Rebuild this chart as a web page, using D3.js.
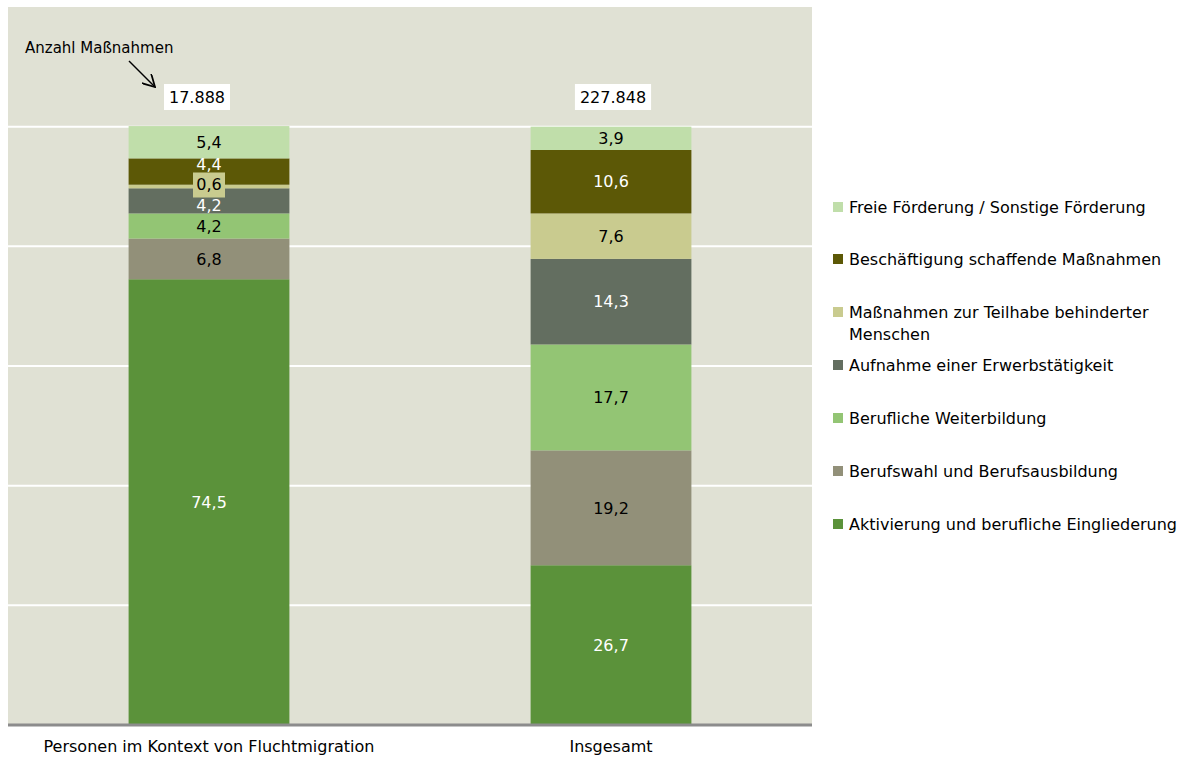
<!DOCTYPE html>
<html>
<head>
<meta charset="utf-8">
<script src="https://cdn.jsdelivr.net/npm/d3@7"></script>
<style>
  body { margin: 0; background: #fff; }
  svg text { font-family: "DejaVu Sans", Verdana, sans-serif; }
</style>
</head>
<body>
<svg id="chart" width="1180" height="760"></svg>
<script>
// categories (bottom -> top of the stack)
var series = [
    "Aktivierung und berufliche Eingliederung",
    "Berufswahl und Berufsausbildung",
    "Berufliche Weiterbildung",
    "Aufnahme einer Erwerbstätigkeit",
    "Maßnahmen zur Teilhabe behinderter Menschen",
    "Beschäftigung schaffende Maßnahmen",
    "Freie Förderung / Sonstige Förderung"
];
var groups = ["Personen im Kontext von Fluchtmigration", "Insgesamt"];
var fluchtValues = [74.5, 6.8, 4.2, 4.2, 0.6, 4.4, 5.4];
var insgesamtValues = [26.7, 19.2, 17.7, 14.3, 7.6, 10.6, 3.9];
var totals = ["17.888", "227.848"];
var yTicks = [0, 20, 40, 60, 80, 100, 120];

var colors = ["#5b923a", "#929079", "#93c574", "#636e60", "#c9cb8f", "#5c5806", "#c0deaa"];
var whiteText = [true, false, false, true, false, true, false];

var svg = d3.select("#chart");
var plot = {left: 8, right: 812, top: 7, bottom: 725};
var FS = 16;

var x = d3.scaleBand()
    .domain(groups)
    .range([plot.left, plot.right])
    .paddingInner(0.6)
    .paddingOuter(0.3);

var y = d3.scaleLinear()
    .domain([0, 120])
    .range([plot.bottom, plot.top]);

// plot background
svg.append("rect")
    .attr("x", plot.left).attr("y", plot.top)
    .attr("width", plot.right - plot.left)
    .attr("height", plot.bottom - plot.top)
    .attr("fill", "#e0e1d4");

// gridlines
svg.append("g").selectAll("line")
    .data(yTicks.filter(function (t) { return t > 0 && t < 120; }))
    .enter().append("line")
    .attr("x1", plot.left).attr("x2", plot.right)
    .attr("y1", function (d) { return y(d); })
    .attr("y2", function (d) { return y(d); })
    .attr("stroke", "#ffffff")
    .attr("stroke-width", 2);

var rows = groups.map(function (g, i) {
    var vals = i === 0 ? fluchtValues : insgesamtValues;
    var row = {group: g};
    series.forEach(function (s, j) { row[s] = vals[j]; });
    return row;
});
var stacked = d3.stack().keys(series)(rows);

// label nudges for the crowded first bar (px)
var nudge = {"0-5": -7, "0-4": -2, "0-3": 4};

var layers = svg.append("g").selectAll("g")
    .data(stacked)
    .enter().append("g")
    .attr("fill", function (d, i) { return colors[i]; });

layers.selectAll("rect")
    .data(function (d) { return d; })
    .enter().append("rect")
    .attr("x", function (d) { return x(d.data.group); })
    .attr("width", x.bandwidth())
    .attr("y", function (d) { return y(d[1]); })
    .attr("height", function (d) { return y(d[0]) - y(d[1]); });

var fmt = function (v) { return v.toFixed(1).replace(".", ","); };

stacked.forEach(function (layer, si) {
    layer.forEach(function (d, gi) {
        var cx = x(d.data.group) + x.bandwidth() / 2;
        var cy = (y(d[0]) + y(d[1])) / 2 + (nudge[gi + "-" + si] || 0);
        var label = fmt(d[1] - d[0]);
        if (gi === 0 && si === 4) {
            svg.append("rect")
                .attr("x", cx - 16).attr("y", cy - 12)
                .attr("width", 32).attr("height", 25)
                .attr("fill", colors[si]);
        }
        svg.append("text")
            .attr("x", cx).attr("y", cy)
            .attr("dy", "0.36em")
            .attr("text-anchor", "middle")
            .attr("font-size", FS)
            .attr("fill", whiteText[si] ? "#ffffff" : "#000000")
            .text(label);
    });
});

// totals above bars
var totalOffset = [-12, 2];
groups.forEach(function (g, i) {
    var cx = x(g) + x.bandwidth() / 2 + totalOffset[i];
    var t = svg.append("text")
        .attr("x", cx).attr("y", 97)
        .attr("dy", "0.36em")
        .attr("text-anchor", "middle")
        .attr("font-size", FS)
        .attr("fill", "#000")
        .text(totals[i]);
    var bb = t.node().getBBox();
    svg.insert("rect", function () { return t.node(); })
        .attr("x", bb.x - 5).attr("y", 84)
        .attr("width", bb.width + 10).attr("height", 26)
        .attr("fill", "#ffffff");
});

// annotation
svg.append("text")
    .attr("x", 25).attr("y", 53)
    .attr("font-size", 15)
    .attr("fill", "#000")
    .text("Anzahl Maßnahmen");
svg.append("defs").append("marker")
    .attr("id", "arrow")
    .attr("viewBox", "0 0 10 10")
    .attr("refX", 9).attr("refY", 5)
    .attr("markerWidth", 9).attr("markerHeight", 9)
    .attr("orient", "auto")
    .append("path")
    .attr("d", "M0,0 L9,5 L0,10")
    .attr("fill", "none")
    .attr("stroke", "#000")
    .attr("stroke-width", 1.3);
svg.append("line")
    .attr("x1", 129).attr("y1", 61)
    .attr("x2", 155).attr("y2", 87)
    .attr("stroke", "#000")
    .attr("stroke-width", 1.5)
    .attr("marker-end", "url(#arrow)");

// x axis
var xAxis = svg.append("g")
    .attr("transform", "translate(0," + plot.bottom + ")")
    .call(d3.axisBottom(x).tickSize(0).tickPadding(16));
xAxis.select(".domain")
    .attr("d", "M" + plot.left + ",0H" + plot.right)
    .attr("stroke", "#8c8c8c")
    .attr("stroke-width", 3);
xAxis.selectAll("text")
    .attr("font-size", FS)
    .attr("font-family", "DejaVu Sans, sans-serif")
    .attr("fill", "#000");

// legend (top entry first)
var legendItems = series.map(function (s, i) { return {name: s, color: colors[i]}; }).reverse();
var legendY = [207, 259, 312, 365, 418, 471, 524];
var legend = svg.append("g").selectAll("g")
    .data(legendItems)
    .enter().append("g")
    .attr("transform", function (d, i) { return "translate(833," + legendY[i] + ")"; });
legend.append("rect")
    .attr("x", 0).attr("y", -5)
    .attr("width", 10).attr("height", 10)
    .attr("fill", function (d) { return d.color; });
legend.append("text")
    .attr("x", 16).attr("y", 0)
    .attr("font-size", FS)
    .attr("fill", "#000")
    .each(function (d) {
        var el = d3.select(this);
        var parts = d.name === "Maßnahmen zur Teilhabe behinderter Menschen"
            ? ["Maßnahmen zur Teilhabe behinderter", "Menschen"] : [d.name];
        parts.forEach(function (p, k) {
            el.append("tspan").attr("x", 16).attr("dy", k === 0 ? "0.36em" : "1.4em").text(p);
        });
    });
</script>
</body>
</html>
